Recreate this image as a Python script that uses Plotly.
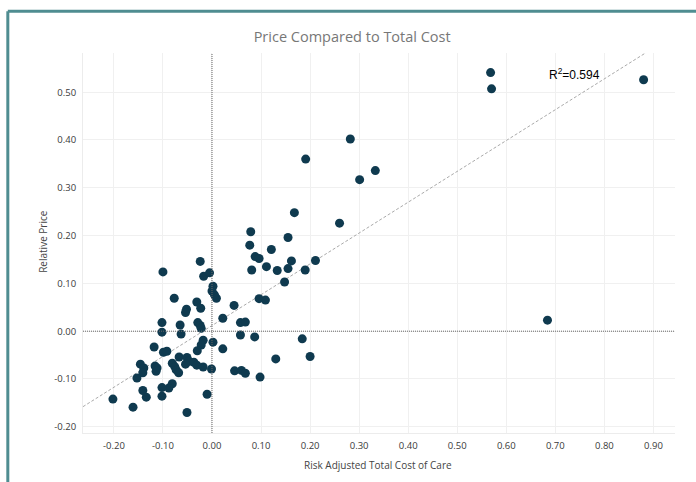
import numpy as np
import plotly.graph_objects as go

# Risk adjusted total cost of care (x) and relative price (y)
cost = [0.568, 0.570, 0.880, 0.282, 0.191, 0.301, 0.333, 0.168, 0.260, 0.079,
        0.077, 0.155, 0.121, 0.088, 0.096, -0.024, 0.162, 0.081, 0.111, 0.133,
        0.155, 0.190, 0.211, -0.017, -0.005, 0.148, 0.002, 0.000, 0.005, 0.009,
        0.096, 0.109, 0.045, -0.031, -0.023, -0.052, -0.054, 0.022, -0.100, -0.077,
        -0.102, -0.102, -0.065, -0.063, -0.029, -0.024, -0.022, 0.058, 0.068, 0.058,
        0.087, 0.184, 0.684, -0.018, -0.022, -0.030, 0.002, 0.022, -0.118, -0.099,
        -0.092, -0.067, -0.051, -0.047, -0.054, -0.037, -0.031, -0.018, -0.001, 0.046,
        0.060, 0.068, 0.098, 0.130, 0.200, -0.146, -0.139, -0.141, -0.153, -0.116,
        -0.112, -0.114, -0.081, -0.076, -0.073, -0.068, -0.081, -0.088, -0.102, -0.141,
        -0.134, -0.102, -0.161, -0.051, -0.010, -0.202]
price = [0.541, 0.507, 0.526, 0.402, 0.360, 0.317, 0.336, 0.248, 0.226, 0.208,
         0.180, 0.196, 0.171, 0.156, 0.152, 0.146, 0.147, 0.128, 0.135, 0.127,
         0.131, 0.128, 0.148, 0.115, 0.122, 0.103, 0.094, 0.084, 0.076, 0.069,
         0.068, 0.065, 0.054, 0.061, 0.048, 0.046, 0.039, 0.027, 0.124, 0.069,
         0.018, -0.002, 0.013, -0.006, 0.018, 0.012, 0.006, 0.018, 0.019, -0.008,
         -0.012, -0.016, 0.023, -0.019, -0.029, -0.041, -0.023, -0.037, -0.033, -0.044,
         -0.042, -0.054, -0.055, -0.063, -0.069, -0.065, -0.071, -0.075, -0.079, -0.083,
         -0.082, -0.088, -0.096, -0.058, -0.053, -0.069, -0.077, -0.087, -0.098, -0.073,
         -0.077, -0.084, -0.067, -0.074, -0.081, -0.087, -0.110, -0.119, -0.118, -0.124,
         -0.138, -0.136, -0.159, -0.170, -0.132, -0.142]

x_ticks = [-0.2, -0.1, 0.0, 0.1, 0.2, 0.3, 0.4, 0.5, 0.6, 0.7, 0.8, 0.9]
x_labels = ["-0.20", "-0.10", "0.00", "0.10", "0.20", "0.30", "0.40", "0.50",
            "0.60", "0.70", "0.80", "0.90"]
y_ticks = [-0.2, -0.1, 0.0, 0.1, 0.2, 0.3, 0.4, 0.5]
y_labels = ["-0.20", "-0.10", "0.00", "0.10", "0.20", "0.30", "0.40", "0.50"]

x_range = [-0.263, 0.944]
y_range = [-0.213, 0.582]

slope, intercept = np.polyfit(cost, price, 1)
fit_x = np.array(x_range)
fit_y = slope * fit_x + intercept

fig = go.Figure()
fig.add_trace(go.Scatter(
    x=fit_x, y=fit_y, mode="lines",
    line=dict(color="#aaaaaa", width=1, dash="3px,2px"),
    hoverinfo="skip", showlegend=False
))
fig.add_trace(go.Scatter(
    x=cost, y=price, mode="markers",
    marker=dict(color="#0f3a4f", size=9),
    showlegend=False
))

# dotted reference lines at zero
fig.add_shape(type="line", xref="x", yref="paper", x0=0, x1=0, y0=0, y1=1,
              line=dict(color="#666666", width=1, dash="1px,1px"))
fig.add_shape(type="line", xref="paper", yref="y", x0=0, x1=1, y0=0, y1=0,
              line=dict(color="#666666", width=1, dash="1px,1px"))

# teal frame (left and top edges)
frame = "#4f8d91"
fig.add_shape(type="line", xref="paper", yref="paper", x0=-0.127, x1=-0.127,
              y0=-0.2, y1=1.110, line=dict(color=frame, width=3))
fig.add_shape(type="line", xref="paper", yref="paper", x0=-0.127, x1=1.1,
              y0=1.110, y1=1.110, line=dict(color=frame, width=3))

fig.add_annotation(x=0.740, y=0.539, xref="x", yref="y", text="R<sup>2</sup>=0.594",
                   showarrow=False, xanchor="center", yanchor="middle",
                   font=dict(family="Liberation Sans", size=12, color="#000000"))
fig.add_annotation(x=0.499, y=-0.083, xref="paper", yref="paper",
                   xanchor="center", yanchor="middle",
                   text="Risk Adjusted Total Cost of Care", showarrow=False,
                   font=dict(size=10, color="#444444"))
fig.add_annotation(x=-0.067, y=0.504, xref="paper", yref="paper", textangle=-90,
                   xanchor="center", yanchor="middle",
                   text="Relative Price", showarrow=False,
                   font=dict(size=10, color="#444444"))

axis_common = dict(
    showgrid=True, gridcolor="#f0f0f0", gridwidth=1, zeroline=False,
    showline=True, linecolor="#ececec", linewidth=1,
    ticks="outside", ticklen=4, tickcolor="rgba(0,0,0,0)",
    tickfont=dict(size=9.5, color="#3a3a3a"),
)
fig.update_xaxes(range=x_range, tickvals=x_ticks, ticktext=x_labels, **axis_common)
fig.update_yaxes(range=y_range, tickvals=y_ticks, ticktext=y_labels, **axis_common)

fig.update_layout(
    width=696, height=482, autosize=False,
    margin=dict(l=83, r=21, t=53, b=49),
    paper_bgcolor="white", plot_bgcolor="white",
    font=dict(family="Open Sans"),
    title=dict(text="Price Compared to Total Cost", x=0.506, xref="container",
               xanchor="center", y=0.923, yref="container", yanchor="middle",
               font=dict(size=14.5, color="#777777")),
)

fig.write_html("out.html", config={"displayModeBar": False},
               post_script="document.body.style.margin='0';")
